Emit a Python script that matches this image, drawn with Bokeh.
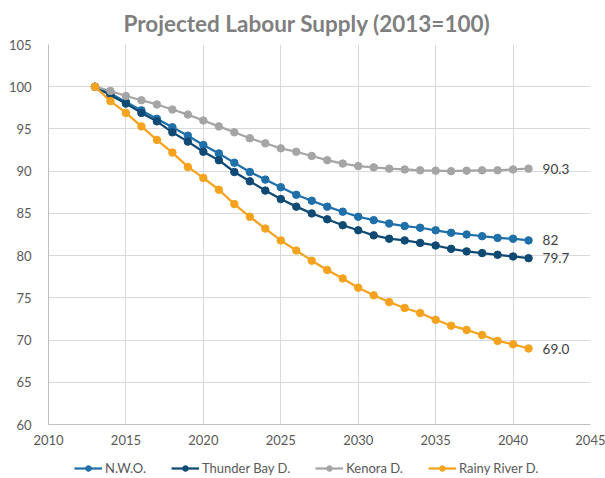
from bokeh.plotting import figure
from bokeh.models import Legend, LegendItem, FixedTicker, Range1d
from bokeh.layouts import column
from bokeh.core.properties import value
from bokeh.embed import file_html
from bokeh.resources import INLINE

years = list(range(2013, 2042))
nwo = [100, 99.2, 98.2, 97.2, 96.2, 95.2, 94.2, 93.1, 92.1, 91.0, 89.9, 89.0, 88.1, 87.2, 86.5,
       85.8, 85.2, 84.6, 84.2, 83.8, 83.5, 83.3, 83.0, 82.7, 82.5, 82.3, 82.1, 82.0, 81.8]
thunder_bay = [100, 99.0, 98.0, 96.9, 95.9, 94.6, 93.5, 92.3, 91.3, 89.9, 88.8, 87.7, 86.7, 85.8, 85.0,
               84.3, 83.6, 83.0, 82.4, 82.0, 81.8, 81.5, 81.2, 80.8, 80.5, 80.3, 80.1, 79.9, 79.7]
kenora = [100, 99.5, 98.9, 98.4, 97.9, 97.3, 96.7, 96.0, 95.3, 94.6, 93.9, 93.3, 92.7, 92.3, 91.8,
          91.3, 90.9, 90.6, 90.45, 90.3, 90.2, 90.1, 90.06, 90.0, 90.06, 90.1, 90.1, 90.2, 90.3]
rainy_river = [100, 98.3, 96.9, 95.3, 93.7, 92.2, 90.5, 89.2, 87.8, 86.1, 84.6, 83.2, 81.8, 80.6, 79.4,
               78.3, 77.3, 76.2, 75.3, 74.5, 73.8, 73.2, 72.4, 71.7, 71.2, 70.6, 69.9, 69.5, 69.0]
series_names = ["N.W.O.", "Thunder Bay D.", "Kenora D.", "Rainy River D."]
end_labels = ["82", "79.7", "90.3", "69.0"]
x_ticks = [2010, 2015, 2020, 2025, 2030, 2035, 2040, 2045]
y_ticks = [60, 65, 70, 75, 80, 85, 90, 95, 100, 105]

colors = ["#1F6FA8", "#0E4A74", "#A5A5A5", "#F5A31F"]
font = "Lato"
all_series = [nwo, thunder_bay, kenora, rainy_river]

p = figure(frame_width=542, frame_height=380, output_backend="svg", toolbar_location=None,
           x_range=Range1d(2010, 2045), y_range=Range1d(60, 105),
           min_border_left=48, min_border_right=15, min_border_top=44, min_border_bottom=33)
p.outline_line_color = None
p.title.text = "Projected Labour Supply (2013=100)"
p.title.text_font = font
p.title.text_font_style = "bold"
p.title.text_font_size = "22.5px"
p.title.text_color = "#7F7F7F"
p.title.align = "left"
p.title.offset = 75
p.title.standoff = 15

p.xaxis.ticker = FixedTicker(ticks=x_ticks)
p.yaxis.ticker = FixedTicker(ticks=y_ticks)
for ax in (p.xaxis[0], p.yaxis[0]):
    ax.axis_line_color = "#BFBFBF"
    ax.major_tick_line_color = None
    ax.minor_tick_line_color = None
    ax.major_label_text_font = font
    ax.major_label_text_font_size = "13px"
    ax.major_label_text_color = "#595959"
p.yaxis.major_label_standoff = 11
p.xaxis.major_label_standoff = 4
p.xgrid.grid_line_color = "#D9D9D9"
p.ygrid.grid_line_color = "#D9D9D9"

for ys, c, lab in zip(all_series, colors, end_labels):
    p.line(years, ys, line_color=c, line_width=2.25)
    p.scatter(years, ys, size=7.5, fill_color=c, line_color=c)
    p.text([years[-1]], [ys[-1]], text=[lab], x_offset=14, text_baseline="middle",
           text_font=value(font), text_font_size="13.5px", text_color="#404040")

# Legend strip below the chart
lg = figure(width=605, height=20, output_backend="svg", toolbar_location=None,
            x_range=Range1d(0, 1), y_range=Range1d(0, 1),
            min_border_left=0, min_border_right=0, min_border_top=0, min_border_bottom=0)
lg.axis.visible = False
lg.grid.visible = False
lg.outline_line_color = None
items = []
for name, ys, c in zip(series_names, all_series, colors):
    r1 = lg.line(years, ys, line_color=c, line_width=2.25)
    r2 = lg.scatter(years, ys, size=7.5, fill_color=c, line_color=c)
    items.append(LegendItem(label=name, renderers=[r1, r2]))
legend = Legend(items=items, orientation="horizontal", location=(26, 1),
                label_text_font=font, label_text_font_size="13px", label_text_color="#595959",
                glyph_width=28, glyph_height=14, spacing=25, border_line_color=None,
                padding=1, margin=0, label_standoff=3, background_fill_alpha=0)
lg.add_layout(legend)

open("out.html", "w").write(file_html(column(p, lg, spacing=0), INLINE))
